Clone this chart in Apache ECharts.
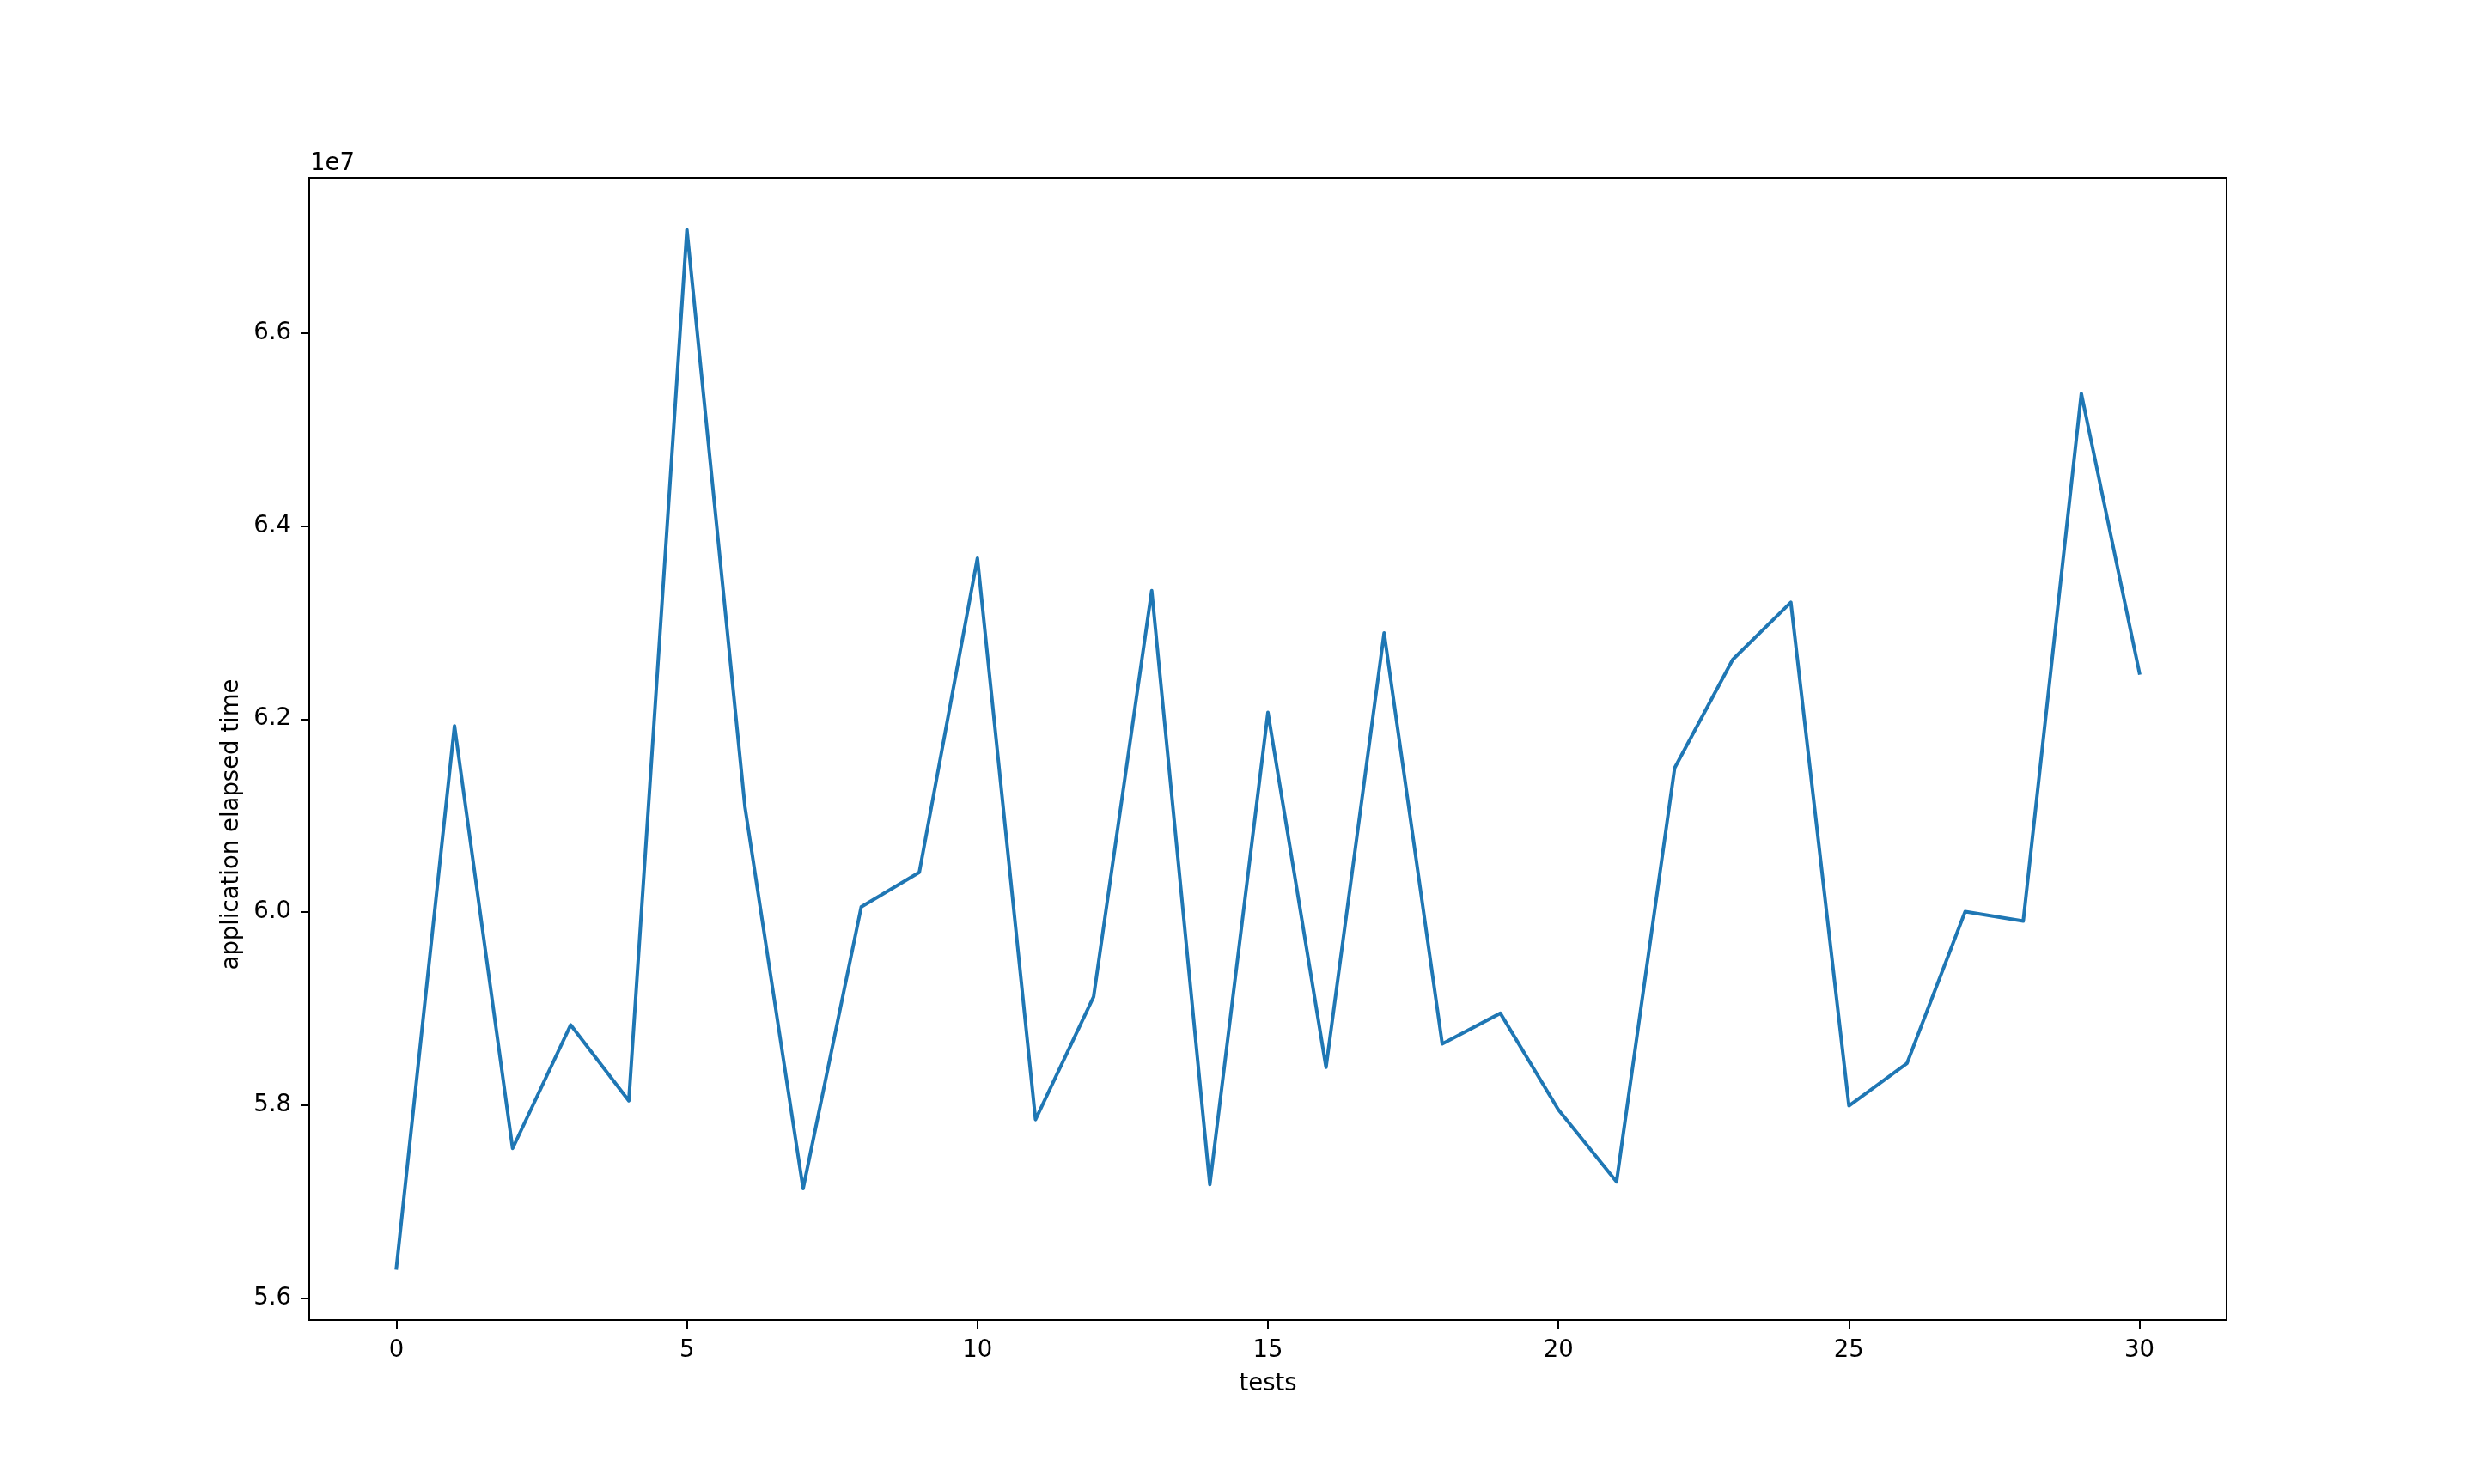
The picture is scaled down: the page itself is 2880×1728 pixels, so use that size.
<!DOCTYPE html>
<html>
<head>
<meta charset="utf-8">
<script src="https://cdn.jsdelivr.net/npm/echarts@6/dist/echarts.min.js"></script>
<style>
html,body{margin:0;padding:0;background:#fff;}
#chart{width:2880px;height:1728px;}
</style>
</head>
<body>
<div id="chart"></div>
<script>
// test index
const tests = [0,1,2,3,4,5,6,7,8,9,10,11,12,13,14,15,16,17,18,19,20,21,22,23,24,25,26,27,28,29,30];
// application elapsed time
const elapsed = [
  56310000, 61930000, 57550000, 58830000, 58044000, 67073000, 61086000, 57134000,
  60053000, 60412000, 63668000, 57849000, 59123000, 63331000, 57175000, 62069000,
  58392000, 62894000, 58633000, 58951000, 57951000, 57204000, 61494000, 62617000,
  63211000, 57992000, 58433000, 60004000, 59906000, 65374000, 62478000
];
const xTicks = [0,5,10,15,20,25,30];
const yTicks = [56000000,58000000,60000000,62000000,64000000,66000000];

const font = 'DejaVu Sans';
const fs = 27.5;
const ymin = Math.min(...elapsed), ymax = Math.max(...elapsed);
const yr = ymax - ymin;
const xmin = Math.min(...tests), xmax = Math.max(...tests);
const xr = xmax - xmin;

const chart = echarts.init(document.getElementById('chart'), null, {renderer:'canvas'});
chart.setOption({
  animation:false,
  backgroundColor:'#fff',
  grid:{left:360, top:207, width:2232, height:1330, show:true, borderColor:'#000', borderWidth:2, backgroundColor:'transparent'},
  xAxis:{
    type:'value', min:xmin-0.05*xr, max:xmax+0.05*xr,
    name:'tests', nameLocation:'middle', nameGap:61,
    nameTextStyle:{fontFamily:font, fontSize:fs, color:'#000'},
    axisLine:{show:true, onZero:false, lineStyle:{color:'#000', width:2}},
    axisTick:{show:true, inside:false, length:10, lineStyle:{color:'#000', width:2}, customValues:xTicks},
    axisLabel:{fontFamily:font, fontSize:fs, color:'#000', margin:22, customValues:xTicks, formatter:v=>String(v)},
    splitLine:{show:false}
  },
  yAxis:{
    type:'value', min:ymin-0.05*yr, max:ymax+0.05*yr,
    axisLine:{show:true, onZero:false, lineStyle:{color:'#000', width:2}},
    axisTick:{show:true, inside:false, length:10, lineStyle:{color:'#000', width:2}, customValues:yTicks},
    axisLabel:{fontFamily:font, fontSize:fs, color:'#000', margin:21, customValues:yTicks, formatter:v=>(v/1e7).toFixed(1)},
    splitLine:{show:false}
  },
  graphic:[
    {type:'text', left:361, top:177, style:{text:'1e7', fontFamily:font, fontSize:fs, fill:'#000'}},
    {type:'text', x:270, y:960, rotation:Math.PI/2,
     style:{text:'application elapsed time', fontFamily:font, fontSize:fs, fill:'#000', align:'center', verticalAlign:'middle'}}
  ],
  series:[{
    type:'line', data:tests.map((t,i)=>[t, elapsed[i]]),
    showSymbol:false, symbol:'none',
    lineStyle:{color:'#1f77b4', width:4, cap:'square', join:'round'},
    itemStyle:{color:'#1f77b4'}
  }]
});
</script>
</body>
</html>
